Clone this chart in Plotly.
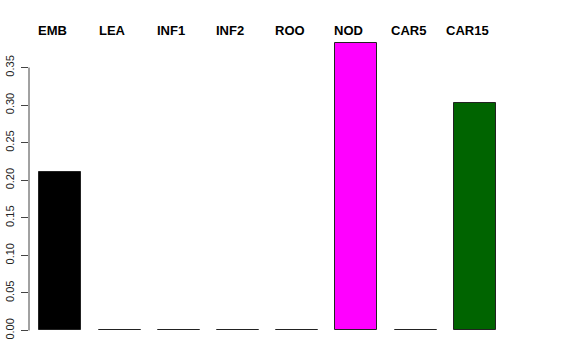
import plotly.graph_objects as go

categories = ["EMB", "LEA", "INF1", "INF2", "ROO", "NOD", "CAR5", "CAR15"]
values = [0.211, 0.0, 0.0, 0.0, 0.0, 0.383, 0.0, 0.303]
colors = ["#000000", "#FF0000", "#00CD00", "#0000FF", "#FF0000", "#FF00FF", "#0000FF", "#006400"]
y_ticks = [0.00, 0.05, 0.10, 0.15, 0.20, 0.25, 0.30, 0.35]

xpos = list(range(len(categories)))

fig = go.Figure()
fig.add_trace(go.Bar(
    x=xpos, y=values, width=0.71,
    marker=dict(color=colors, line=dict(color="#222222", width=1)),
    showlegend=False, hoverinfo="skip",
))

for xi, c in zip(xpos, categories):
    fig.add_annotation(x=xi, y=1, xref="x", yref="paper", text="<b>%s</b>" % c,
                       showarrow=False, yanchor="middle", xanchor="center", xshift=-7.5,
                       font=dict(family="Liberation Sans, Arial, sans-serif", size=13, color="black"))

# R-style axis line spanning only the tick range
fig.add_shape(type="line", xref="paper", yref="y", x0=0, x1=0, y0=y_ticks[0], y1=y_ticks[-1],
              line=dict(color="#444444", width=1))

fig.update_layout(
    width=576, height=360,
    margin=dict(l=29, r=16, t=30, b=22, autoexpand=False),
    paper_bgcolor="white", plot_bgcolor="white",
    font=dict(family="Liberation Sans, Arial, sans-serif", size=11, color="black"),
    bargap=0,
    xaxis=dict(range=[-0.530, 8.440], showticklabels=False, showgrid=False, zeroline=False,
               showline=False, ticks=""),
    yaxis=dict(range=[-0.01, 0.40], tickvals=y_ticks, ticktext=["%.2f" % v for v in y_ticks],
               ticks="outside", ticklen=7, tickcolor="#444444", tickangle=-90,
               showgrid=False, zeroline=False, showline=False, ticklabelstandoff=3,
               automargin=False,
               tickfont=dict(size=11, color="#222222")),
)

fig.write_html("out.html")
